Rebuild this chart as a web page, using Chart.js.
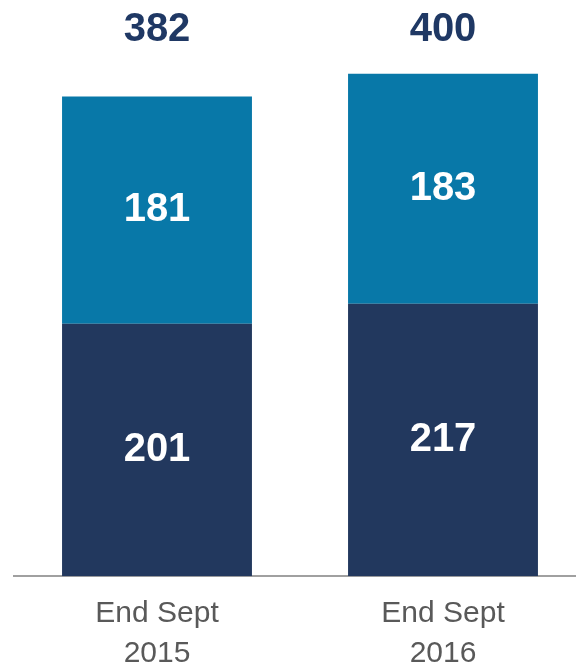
<!DOCTYPE html>
<html>
<head>
<meta charset="utf-8">
<script src="https://cdn.jsdelivr.net/npm/chart.js@4.4.0/dist/chart.umd.min.js"></script>
<style>
  html, body { margin: 0; padding: 0; background: #fff; overflow: hidden; }
  #wrap { width: 576px; height: 663px; overflow: hidden; }
</style>
</head>
<body>
<div id="wrap"><canvas id="chart" width="590" height="684"></canvas></div>
<script>
const categories = [['End Sept', '2015'], ['End Sept', '2016']];
const bottomValues = [201, 217];
const topValues = [181, 183];
const totals = [382, 400];

// draw values inside the segments and totals above the stacks
const labelPlugin = {
  id: 'labels',
  afterDatasetsDraw(chart) {
    const ctx = chart.ctx;
    ctx.save();
    ctx.textAlign = 'center';
    ctx.textBaseline = 'middle';
    ctx.font = 'bold 40px "Liberation Sans", Arial, sans-serif';
    chart.data.datasets.forEach((ds, i) => {
      chart.getDatasetMeta(i).data.forEach((bar, j) => {
        const mid = (bar.y + bar.base) / 2;
        ctx.fillStyle = '#ffffff';
        ctx.fillText(ds.data[j], bar.x, mid);
      });
    });
    const meta = chart.getDatasetMeta(0);
    ctx.fillStyle = '#1f3864';
    meta.data.forEach((bar, j) => {
      ctx.fillText(totals[j], bar.x, 30);
    });
    ctx.restore();
  }
};

new Chart(document.getElementById('chart'), {
  type: 'bar',
  data: {
    labels: categories,
    datasets: [
      { label: 'Bottom', data: bottomValues, backgroundColor: '#22385e' },
      { label: 'Top', data: topValues, backgroundColor: '#0878a8' }
    ]
  },
  options: {
    responsive: false,
    animation: false,
    layout: { padding: { top: 11, left: 14, right: 4, bottom: 0 } },
    plugins: { legend: { display: false }, tooltip: { enabled: false } },
    datasets: { bar: { categoryPercentage: 1, barPercentage: 0.664 } },
    scales: {
      x: {
        stacked: true,
        grid: { display: false },
        border: { display: true, color: '#a0a0a0', width: 2 },
        ticks: {
          color: '#595959',
          padding: 10,
          font: { family: '"Liberation Sans", Arial, sans-serif', size: 30, lineHeight: 1.33 }
        }
      },
      y: {
        stacked: true,
        display: false,
        min: 0,
        max: 450
      }
    }
  },
  plugins: [labelPlugin]
});
</script>
</body>
</html>
